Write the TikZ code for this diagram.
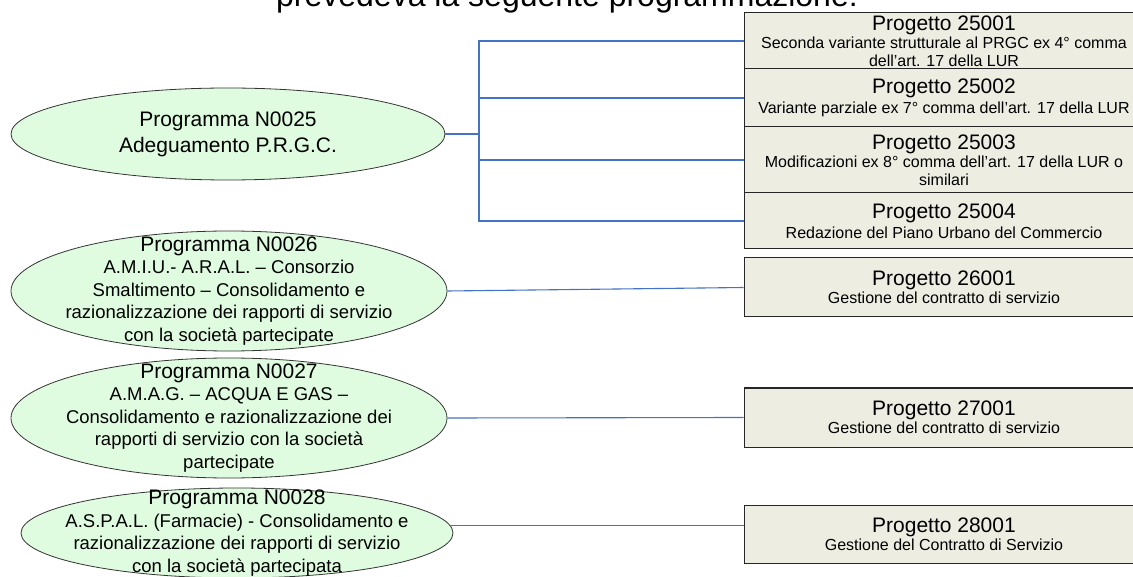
\documentclass[tikz,border=0pt]{standalone}
\usepackage{fontspec}
\setmainfont{Liberation Sans}
\usetikzlibrary{shapes.geometric, positioning}

\definecolor{progfill}{HTML}{E0FCE0}
\definecolor{projfill}{HTML}{EDEDE2}
\definecolor{linkblue}{HTML}{4472C4}

\newcommand{\ptitle}[1]{{\fontsize{21}{22}\selectfont #1}}

\begin{document}
\begin{tikzpicture}[x=1pt, y=-1pt,
        prog/.style={ellipse, draw=black!80, fill=progfill, line width=0.8pt, inner sep=0pt},
        progtext/.style={align=center, font=\fontsize{18.5}{22.5}\selectfont},
        proj/.style={rectangle, draw=black!85, fill=projfill, line width=1pt, minimum width=400pt,
            inner sep=0pt, align=center, font=\fontsize{16}{18}\selectfont},
        link/.style={draw=linkblue, line width=1.1pt}]
        \useasboundingbox (0,0) rectangle (1133,577);

        \node[anchor=base, font=\fontsize{32}{32}\selectfont] (head) at (567,7) {prevedeva la seguente programmazione:};

        % programmi
        \node[prog, minimum width=434pt, minimum height=92pt,
            label={[progtext, font=\fontsize{21}{26}\selectfont]center:{Programma N0025\\Adeguamento P.R.G.C.}}]
            (n25) at (228,134) {};
        \node[prog, minimum width=436pt, minimum height=120pt,
            label={[progtext]center:{\ptitle{Programma N0026}\\A.M.I.U.- A.R.A.L. – Consorzio\\Smaltimento – Consolidamento e\\razionalizzazione dei rapporti di servizio\\con la società partecipate}}]
            (n26) at (229,291) {};
        \node[prog, minimum width=436pt, minimum height=120pt,
            label={[progtext]center:{\ptitle{Programma N0027}\\A.M.A.G. – ACQUA E GAS –\\Consolidamento e razionalizzazione dei\\rapporti di servizio con la società\\partecipate}}]
            (n27) at (229,418) {};
        \node[prog, minimum width=432pt, minimum height=90pt,
            label={[progtext]center:{\ptitle{Programma N0028}\\A.S.P.A.L. (Farmacie) - Consolidamento e\\razionalizzazione dei rapporti di servizio\\con la società partecipata}}]
            (n28) at (237,533) {};

        % progetti
        \node[proj, minimum height=56pt] (p25001) at (944,41)
            {\ptitle{Progetto 25001}\\Seconda variante strutturale al PRGC ex 4° comma\\dell’art. 17 della LUR};
        \node[proj, minimum height=58pt] (p25002) at (944,98)
            {\ptitle{Progetto 25002}\\[2pt]Variante parziale ex 7° comma dell’art. 17 della LUR};
        \node[proj, minimum height=66pt] (p25003) at (944,160)
            {\ptitle{Progetto 25003}\\Modificazioni ex 8° comma dell’art. 17 della LUR o\\similari};
        \node[proj, minimum height=56pt] (p25004) at (944,221)
            {\ptitle{Progetto 25004}\\[2pt]Redazione del Piano Urbano del Commercio};
        \node[proj, minimum height=59pt] (p26001) at (944,287.5)
            {\ptitle{Progetto 26001}\\Gestione del contratto di servizio};
        \node[proj, minimum height=59pt] (p27001) at (944,417.5)
            {\ptitle{Progetto 27001}\\Gestione del contratto di servizio};
        \node[proj, minimum height=58pt] (p28001) at (944,534)
            {\ptitle{Progetto 28001}\\Gestione del Contratto di Servizio};

        % collegamenti
        \coordinate (bus) at (479,134);
        \draw[link] (n25.east) -- (bus);
        \foreach \p in {p25001, p25002, p25003, p25004}
            \draw[link] (bus) |- (\p.west);
        \draw[link] (n26.east) -- (p26001.west);
        \draw[link] (n27.east) -- (p27001.west);
        \draw[link] (n28.2.5) -- (n28.2.5 -| p28001.west);
\end{tikzpicture}
\end{document}
